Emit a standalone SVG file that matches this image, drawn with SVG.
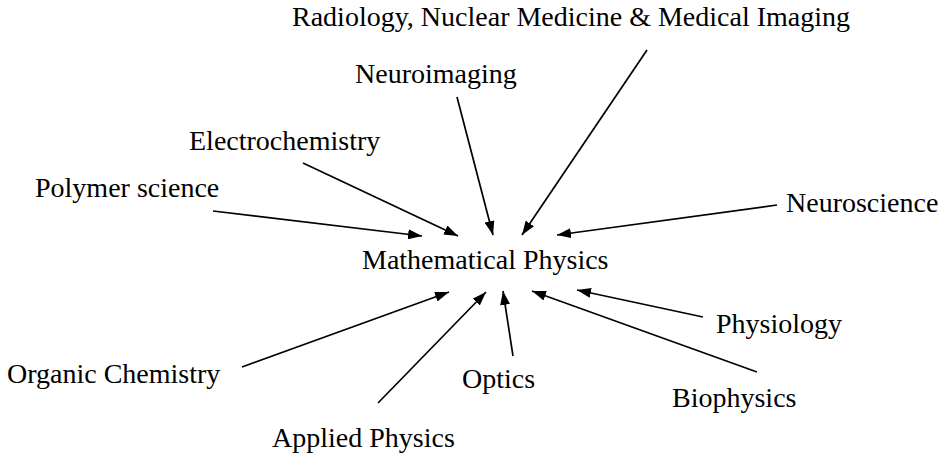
<svg xmlns="http://www.w3.org/2000/svg" width="945" height="454" viewBox="0 0 945 454">
<style>
text{font-family:'Liberation Serif',Tinos,'Times New Roman','DejaVu Serif',serif;font-size:28px;fill:#000}
.c line{stroke:#000;stroke-width:1.7;fill:none}
</style>
<defs>
<marker id="ah" viewBox="0 0 14 10" refX="14" refY="5" markerWidth="14" markerHeight="10" markerUnits="userSpaceOnUse" orient="auto">
<path d="M0,0 L14,5 L0,10 z" fill="#000"/>
</marker>
</defs>
<rect width="945" height="454" fill="#fff"/>
<g id="n-math"><text x="362" y="269" font-family="Liberation Serif, serif">Mathematical Physics</text></g>
<g id="n-radiology"><text x="292" y="26">Radiology, Nuclear Medicine &amp; Medical Imaging</text></g>
<g id="n-neuroimaging"><text x="355" y="83">Neuroimaging</text></g>
<g id="n-electrochemistry"><text x="189" y="150">Electrochemistry</text></g>
<g id="n-polymer"><text x="35" y="197">Polymer science</text></g>
<g id="n-neuroscience"><text x="786" y="212">Neuroscience</text></g>
<g id="n-physiology"><text x="716" y="333">Physiology</text></g>
<g id="n-biophysics"><text x="672" y="407">Biophysics</text></g>
<g id="n-optics"><text x="462" y="388">Optics</text></g>
<g id="n-organic"><text x="7" y="383">Organic Chemistry</text></g>
<g id="n-applied"><text x="272" y="447">Applied Physics</text></g>
<g id="connectors" class="c">
<line x1="213" y1="211" x2="422" y2="236" marker-end="url(#ah)"/>
<line x1="303" y1="163" x2="458" y2="236" marker-end="url(#ah)"/>
<line x1="457" y1="97" x2="493" y2="235" marker-end="url(#ah)"/>
<line x1="647" y1="50" x2="522" y2="235" marker-end="url(#ah)"/>
<line x1="777" y1="205" x2="557" y2="235" marker-end="url(#ah)"/>
<line x1="242" y1="367" x2="449" y2="292" marker-end="url(#ah)"/>
<line x1="378" y1="403" x2="486" y2="292" marker-end="url(#ah)"/>
<line x1="513" y1="356" x2="503" y2="291" marker-end="url(#ah)"/>
<line x1="757" y1="372" x2="532" y2="291" marker-end="url(#ah)"/>
<line x1="703" y1="317" x2="577" y2="290" marker-end="url(#ah)"/>
</g>
</svg>
